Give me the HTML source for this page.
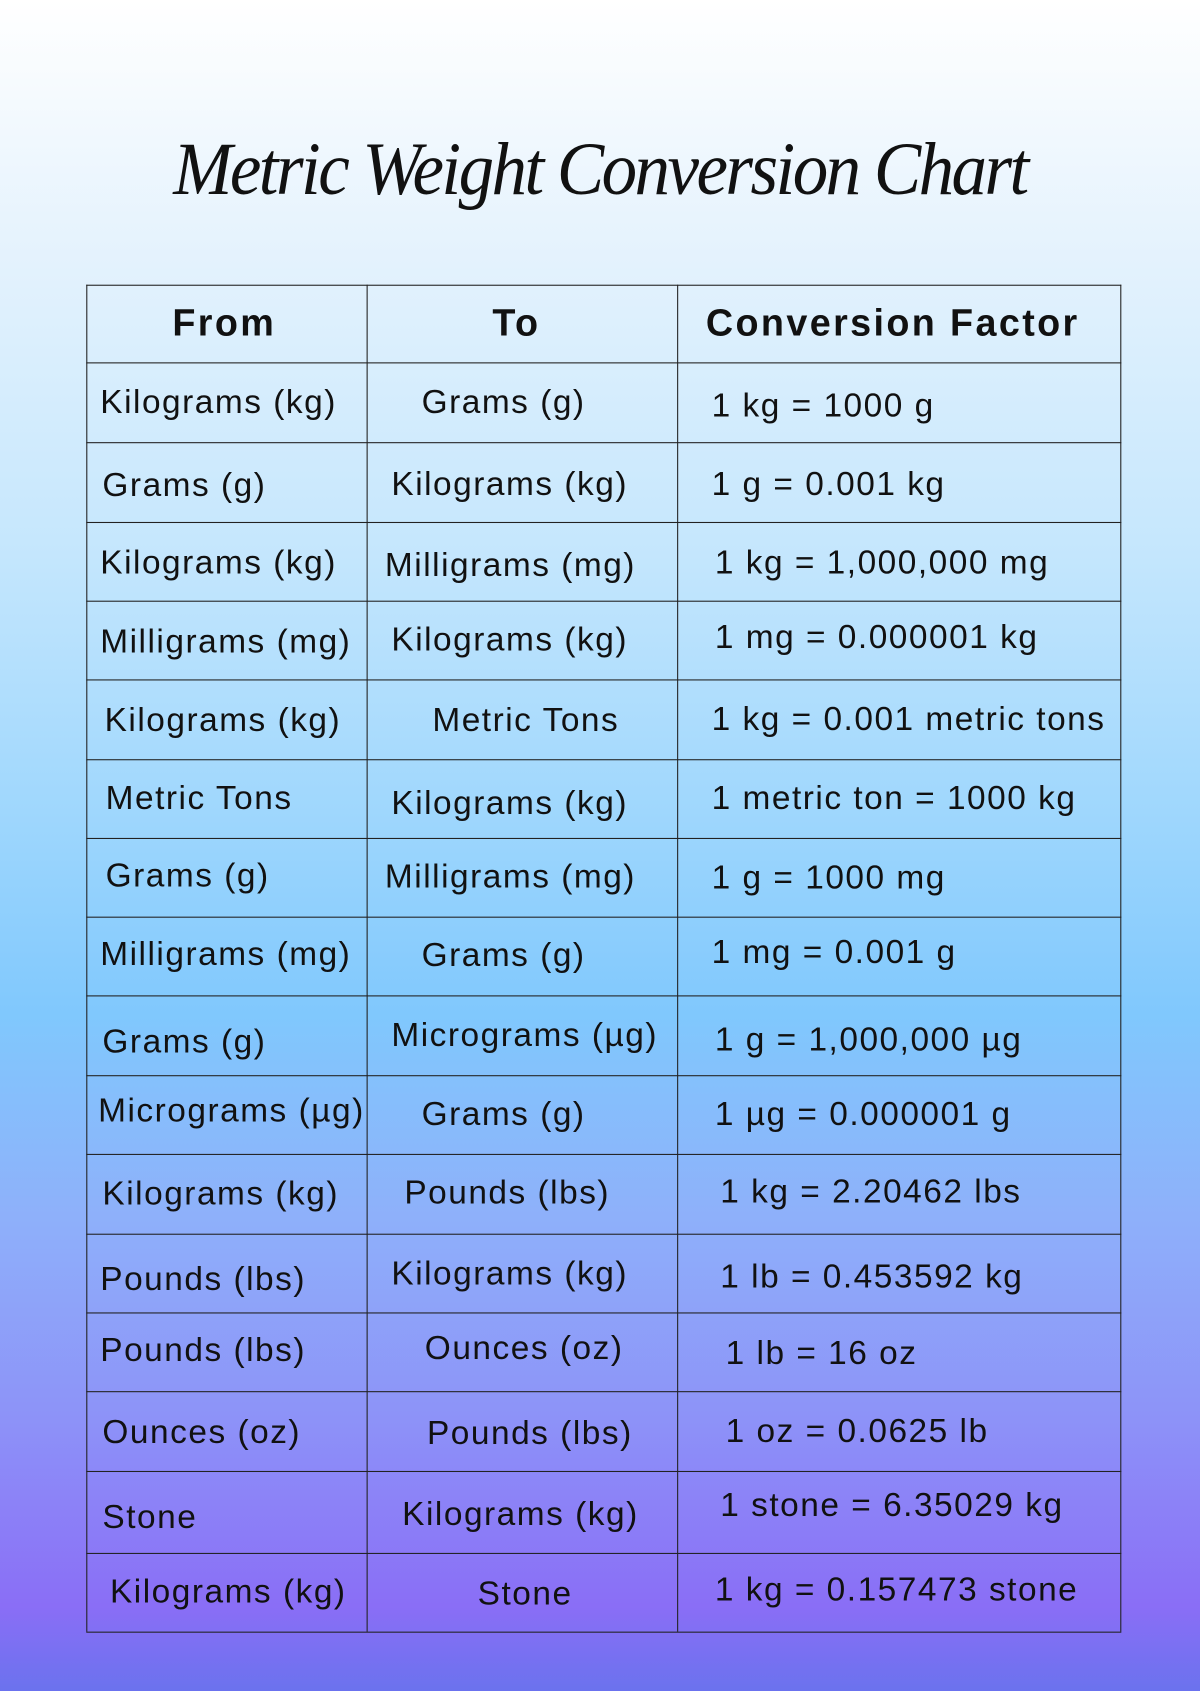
<!DOCTYPE html>
<html><head><meta charset="utf-8"><style>
html,body{margin:0;padding:0;}
body{width:1200px;height:1691px;overflow:hidden;position:relative;
background:linear-gradient(180deg,#ffffff 0%,#e6f3fd 14%,#c6e7fd 32%,#9fd7fd 48%,#80c8fd 60%,#8eb0fa 72%,#8d92f8 84%,#8a6ef6 95%,#6b72ee 100%);}
#w{position:absolute;left:0;top:0;width:1113px;height:1568px;transform:scale(1.0782,1.0784);transform-origin:0 0;font-family:"Liberation Sans",sans-serif;color:#111;}
.t{position:absolute;font-size:31px;line-height:34px;white-space:nowrap;letter-spacing:1.4px;}
.h{position:absolute;font-size:35px;font-weight:bold;line-height:40px;text-align:center;letter-spacing:2.2px;}
.title{position:absolute;left:0;width:1113px;top:118px;text-align:center;font-family:"Liberation Serif",serif;font-style:italic;font-size:70px;letter-spacing:-2.5px;transform:scaleX(0.94);}
.hl{position:absolute;left:80px;width:960px;height:0;border-top:1.5px solid #222;}
.vl{position:absolute;top:264px;height:1249px;width:0;border-left:1.5px solid #222;}
</style></head><body><div id="w">
<div class="title">Metric Weight Conversion Chart</div>
<div class="vl" style="left:80px"></div><div class="vl" style="left:340px"></div><div class="vl" style="left:628px"></div><div class="vl" style="left:1039px"></div>
<div class="hl" style="top:264px"></div><div class="hl" style="top:336px"></div><div class="hl" style="top:410px"></div><div class="hl" style="top:484px"></div><div class="hl" style="top:557px"></div><div class="hl" style="top:630px"></div><div class="hl" style="top:704px"></div><div class="hl" style="top:777px"></div><div class="hl" style="top:850px"></div><div class="hl" style="top:923px"></div><div class="hl" style="top:997px"></div><div class="hl" style="top:1070px"></div><div class="hl" style="top:1144px"></div><div class="hl" style="top:1217px"></div><div class="hl" style="top:1290px"></div><div class="hl" style="top:1364px"></div><div class="hl" style="top:1440px"></div><div class="hl" style="top:1513px"></div>
<div class="h" style="left:80px;width:256px;top:280px">From</div>
<div class="h" style="left:340px;width:278px;top:280px">To</div>
<div class="h" style="left:628px;width:400px;top:280px">Conversion Factor</div>
<div class="t" style="left:93px;top:356px">Kilograms (kg)</div><div class="t" style="left:391px;top:356px">Grams (g)</div><div class="t" style="left:660px;top:359px">1 kg = 1000 g</div>
<div class="t" style="left:95px;top:433px">Grams (g)</div><div class="t" style="left:363px;top:432px">Kilograms (kg)</div><div class="t" style="left:660px;top:432px">1 g = 0.001 kg</div>
<div class="t" style="left:93px;top:505px">Kilograms (kg)</div><div class="t" style="left:357px;top:507px">Milligrams (mg)</div><div class="t" style="left:663px;top:505px">1 kg = 1,000,000 mg</div>
<div class="t" style="left:93px;top:578px">Milligrams (mg)</div><div class="t" style="left:363px;top:576px">Kilograms (kg)</div><div class="t" style="left:663px;top:574px">1 mg = 0.000001 kg</div>
<div class="t" style="left:97px;top:651px">Kilograms (kg)</div><div class="t" style="left:401px;top:651px">Metric Tons</div><div class="t" style="left:660px;top:650px">1 kg = 0.001 metric tons</div>
<div class="t" style="left:98px;top:723px">Metric Tons</div><div class="t" style="left:363px;top:728px">Kilograms (kg)</div><div class="t" style="left:660px;top:723px">1 metric ton = 1000 kg</div>
<div class="t" style="left:98px;top:795px">Grams (g)</div><div class="t" style="left:357px;top:796px">Milligrams (mg)</div><div class="t" style="left:660px;top:797px">1 g = 1000 mg</div>
<div class="t" style="left:93px;top:868px">Milligrams (mg)</div><div class="t" style="left:391px;top:869px">Grams (g)</div><div class="t" style="left:660px;top:866px">1 mg = 0.001 g</div>
<div class="t" style="left:95px;top:949px">Grams (g)</div><div class="t" style="left:363px;top:943px">Micrograms (µg)</div><div class="t" style="left:663px;top:947px">1 g = 1,000,000 µg</div>
<div class="t" style="left:91px;top:1013px">Micrograms (µg)</div><div class="t" style="left:391px;top:1016px">Grams (g)</div><div class="t" style="left:663px;top:1016px">1 µg = 0.000001 g</div>
<div class="t" style="left:95px;top:1090px">Kilograms (kg)</div><div class="t" style="left:375px;top:1089px">Pounds (lbs)</div><div class="t" style="left:668px;top:1088px">1 kg = 2.20462 lbs</div>
<div class="t" style="left:93px;top:1169px">Pounds (lbs)</div><div class="t" style="left:363px;top:1164px">Kilograms (kg)</div><div class="t" style="left:668px;top:1167px">1 lb = 0.453592 kg</div>
<div class="t" style="left:93px;top:1235px">Pounds (lbs)</div><div class="t" style="left:394px;top:1233px">Ounces (oz)</div><div class="t" style="left:673px;top:1238px">1 lb = 16 oz</div>
<div class="t" style="left:95px;top:1311px">Ounces (oz)</div><div class="t" style="left:396px;top:1312px">Pounds (lbs)</div><div class="t" style="left:673px;top:1310px">1 oz = 0.0625 lb</div>
<div class="t" style="left:95px;top:1390px">Stone</div><div class="t" style="left:373px;top:1387px">Kilograms (kg)</div><div class="t" style="left:668px;top:1379px">1 stone = 6.35029 kg</div>
<div class="t" style="left:102px;top:1459px">Kilograms (kg)</div><div class="t" style="left:443px;top:1461px">Stone</div><div class="t" style="left:663px;top:1457px">1 kg = 0.157473 stone</div>
</div></body></html>
